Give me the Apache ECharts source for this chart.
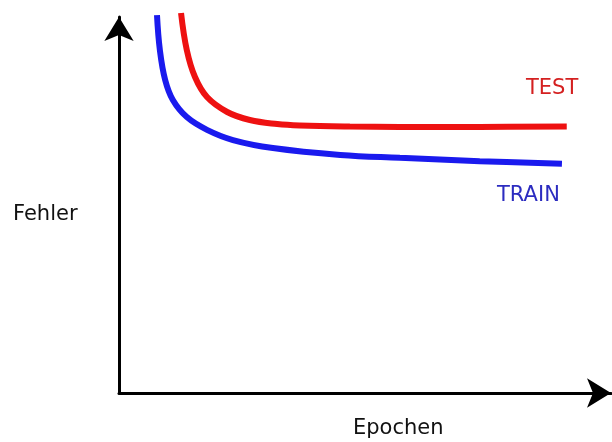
<!DOCTYPE html>
<html><head><meta charset="utf-8">
<script src="https://cdn.jsdelivr.net/npm/echarts@6/dist/echarts.min.js"></script>
<style>html,body{margin:0;padding:0;background:#fff}#c{width:612px;height:442px}</style>
</head><body><div id="c"></div>
<script>
// Epochs (x) and error (y) in arbitrary units
const testEpochs = [12.9, 14.1, 15.8, 18.3, 22.5, 27.2, 32.9, 37.6, 48.0, 58.4, 75.0, 93.1];
const testError  = [104.4, 94.2, 86.8, 81.3, 77.2, 75.0, 73.9, 73.5, 73.2, 73.1, 73.1, 73.2];
const trainEpochs = [7.9, 8.5, 9.6, 11.2, 14.1, 18.3, 23.7, 32.0, 46.0, 58.4, 75.0, 92.1];
const trainError  = [103.8, 94.2, 86.0, 80.5, 75.8, 72.3, 69.5, 67.3, 65.4, 64.6, 63.7, 63.0];
const labels = { test: 'TEST', train: 'TRAIN', xName: 'Epochen', yName: 'Fehler' };

const chart = echarts.init(document.getElementById('c'), null, {renderer: 'canvas'});
chart.setOption({
  animation: false,
  backgroundColor: '#fff',
  grid: {left: 119, right: 1, top: 17, bottom: 49},
  xAxis: {
    type: 'value', min: 0, max: 102.3,
    axisLine: {show: true, onZero: false, lineStyle: {color: '#000', width: 3}, symbol: ['none', 'arrow'], symbolSize: [22, 24]},
    axisTick: {show: false}, axisLabel: {show: false}, splitLine: {show: false}
  },
  yAxis: {
    type: 'value', min: 0, max: 103.3,
    axisLine: {show: true, onZero: false, lineStyle: {color: '#000', width: 3}, symbol: ['none', 'arrow'], symbolSize: [22, 24]},
    axisTick: {show: false}, axisLabel: {show: false}, splitLine: {show: false}
  },
  series: [
    {type: 'line', name: labels.test, data: testEpochs.map((x, i) => [x, testError[i]]),
     smooth: 0.4, showSymbol: false, clip: false,
     lineStyle: {color: '#ee1111', width: 6, cap: 'butt'}},
    {type: 'line', name: labels.train, data: trainEpochs.map((x, i) => [x, trainError[i]]),
     smooth: 0.4, showSymbol: false, clip: false,
     lineStyle: {color: '#1a1aee', width: 6, cap: 'butt'}}
  ],
  graphic: [
    {type: 'text', left: 526, top: 78, style: {text: labels.test, fill: '#d42020', font: '21px "DejaVu Sans"'}},
    {type: 'text', left: 497, top: 185, style: {text: labels.train, fill: '#2c2cc0', font: '21px "DejaVu Sans"'}},
    {type: 'text', left: 13, top: 204, style: {text: labels.yName, fill: '#111', font: '21px "DejaVu Sans"'}},
    {type: 'text', left: 353, top: 418, style: {text: labels.xName, fill: '#111', font: '21px "DejaVu Sans"'}}
  ]
});
</script></body></html>
